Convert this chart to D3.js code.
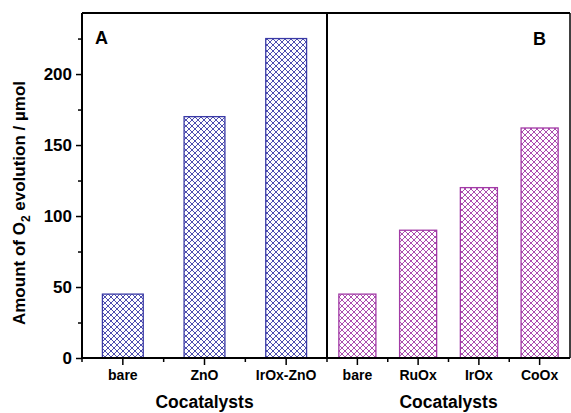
<!DOCTYPE html>
<html>
<head>
<meta charset="utf-8">
<script src="https://cdn.jsdelivr.net/npm/d3@7"></script>
<style>
  body { margin: 0; background: #fff; }
  text { font-family: "Liberation Sans", Arial, sans-serif; font-weight: bold; fill: #000; }
</style>
</head>
<body>
<div id="chart"></div>
<script>
const catsA = ["bare", "ZnO", "IrOx-ZnO"];
const valsA = [45, 170, 225];
const catsB = ["bare", "RuOx", "IrOx", "CoOx"];
const valsB = [45, 90, 120, 162];
const yTicks = [0, 50, 100, 150, 200];
const yMinor = [25, 75, 125, 175, 225];

const W = 571, H = 413;
const mLeft = 82, mTop = 13, mBottom = 358, split = 327, mRight = 570;

const svg = d3.select("#chart").append("svg")
    .attr("width", W).attr("height", H);

const defs = svg.append("defs");
function hatch(id, color) {
    const p = defs.append("pattern")
        .attr("id", id)
        .attr("patternUnits", "userSpaceOnUse")
        .attr("width", 6).attr("height", 6);
    p.append("path")
        .attr("d", "M0,0 L6,6 M6,0 L0,6")
        .attr("stroke", color)
        .attr("stroke-width", 0.9)
        .attr("fill", "none");
}
hatch("hatchA", "#3a3aa6");
hatch("hatchB", "#a23aa6");

const y = d3.scaleLinear().domain([0, 243]).range([mBottom, mTop]);

const xA = d3.scaleBand().domain(catsA).range([mLeft, split]).paddingInner(0.5).paddingOuter(0.25);
const xB = d3.scaleBand().domain(catsB).range([split, mRight]).paddingInner(0.39).paddingOuter(0.195);

// bars
svg.selectAll(".barA")
    .data(catsA)
    .join("rect")
        .attr("class", "barA")
        .attr("x", d => xA(d))
        .attr("y", (d, i) => y(valsA[i]))
        .attr("width", xA.bandwidth())
        .attr("height", (d, i) => y(0) - y(valsA[i]))
        .attr("fill", "url(#hatchA)")
        .attr("stroke", "#3a3aa6")
        .attr("stroke-width", 1.3);

svg.selectAll(".barB")
    .data(catsB)
    .join("rect")
        .attr("class", "barB")
        .attr("x", d => xB(d))
        .attr("y", (d, i) => y(valsB[i]))
        .attr("width", xB.bandwidth())
        .attr("height", (d, i) => y(0) - y(valsB[i]))
        .attr("fill", "url(#hatchB)")
        .attr("stroke", "#a23aa6")
        .attr("stroke-width", 1.3);

// frame
const frame = svg.append("g").attr("stroke", "#000").attr("fill", "none");
frame.append("line").attr("x1", mLeft).attr("x2", mRight).attr("y1", mTop).attr("y2", mTop).attr("stroke-width", 2);
frame.append("line").attr("x1", mRight).attr("x2", mRight).attr("y1", mTop).attr("y2", mBottom).attr("stroke-width", 1.5);
frame.append("line").attr("x1", split).attr("x2", split).attr("y1", mTop).attr("y2", mBottom).attr("stroke-width", 2);
frame.append("line").attr("x1", mLeft).attr("x2", mRight).attr("y1", mBottom).attr("y2", mBottom).attr("stroke-width", 2);
frame.append("line").attr("x1", mLeft).attr("x2", mLeft).attr("y1", mTop).attr("y2", mBottom).attr("stroke-width", 2);

// y axis
const yAxis = svg.append("g")
    .attr("transform", `translate(${mLeft},0)`)
    .call(d3.axisLeft(y).tickValues(yTicks).tickSize(6).tickPadding(4));
yAxis.select(".domain").remove();
yAxis.selectAll(".tick line").attr("stroke-width", 1.5);
yAxis.selectAll(".tick text").style("font-size", "17px").attr("font-family", null);

const yAxisMinor = svg.append("g")
    .attr("transform", `translate(${mLeft},0)`)
    .call(d3.axisLeft(y).tickValues(yMinor).tickSize(4).tickFormat(""));
yAxisMinor.select(".domain").remove();
yAxisMinor.selectAll(".tick line").attr("stroke-width", 1.5);

// x axes
function xAxis(scale, cats) {
    const g = svg.append("g").attr("transform", `translate(0,${mBottom})`)
        .call(d3.axisBottom(scale).tickSize(7).tickPadding(5));
    g.select(".domain").remove();
    g.selectAll(".tick line").attr("stroke-width", 1.5);
    g.selectAll(".tick text").style("font-size", "14px").attr("font-family", null);
    const step = scale.step();
    const bounds = cats.slice(1).map(c => scale(c) - step * scale.paddingInner() / 2);
    bounds.push(scale.range()[0]);
    g.selectAll(".minor")
        .data(bounds)
        .join("line")
            .attr("class", "minor")
            .attr("x1", d => d).attr("x2", d => d)
            .attr("y1", 0).attr("y2", 4)
            .attr("stroke", "#000").attr("stroke-width", 1.5);
}
xAxis(xA, catsA);
xAxis(xB, catsB);

// axis titles
svg.append("text")
    .attr("x", (mLeft + split) / 2).attr("y", 408)
    .attr("text-anchor", "middle")
    .style("font-size", "17.5px")
    .text("Cocatalysts");
svg.append("text")
    .attr("x", (split + mRight) / 2).attr("y", 408)
    .attr("text-anchor", "middle")
    .style("font-size", "17.5px")
    .text("Cocatalysts");

const yt = svg.append("text")
    .attr("transform", `translate(25,203) rotate(-90)`)
    .attr("text-anchor", "middle")
    .style("font-size", "17px");
yt.append("tspan").text("Amount of O");
yt.append("tspan").attr("dy", 5).style("font-size", "12px").text("2");
yt.append("tspan").attr("dy", -5).text(" evolution / \u00b5mol");

// panel labels
svg.append("text").attr("x", 95).attr("y", 44).style("font-size", "18px").text("A");
svg.append("text").attr("x", 533).attr("y", 45).style("font-size", "18px").text("B");
</script>
</body>
</html>
